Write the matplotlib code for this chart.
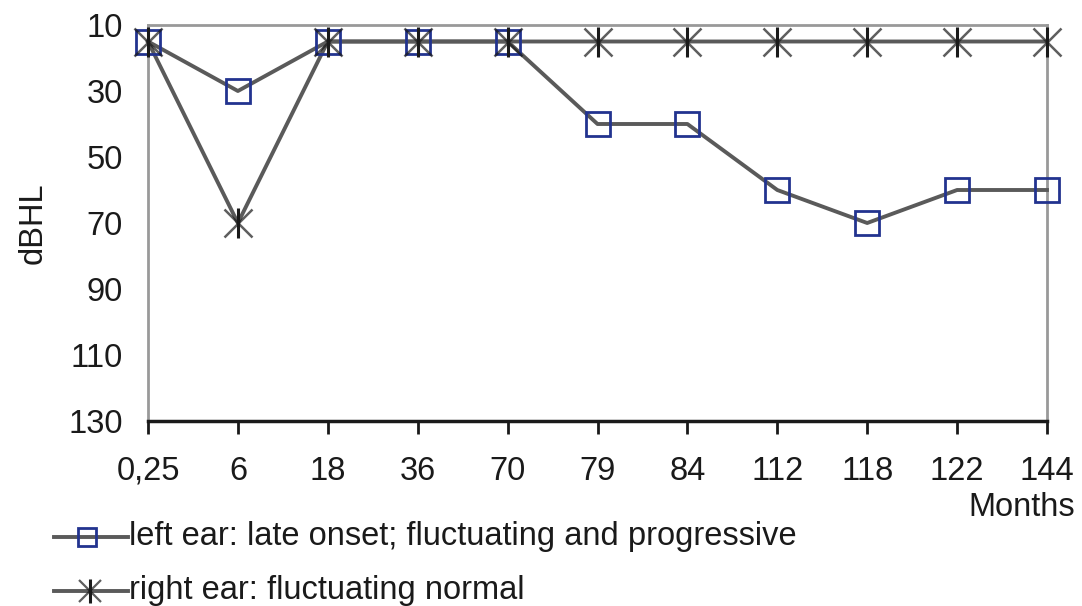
import matplotlib
matplotlib.use("Agg")
import matplotlib.pyplot as plt
from matplotlib.lines import Line2D

plt.rcParams['font.family'] = ['Liberation Sans', 'DejaVu Sans']

months = ["0,25", "6", "18", "36", "70", "79", "84", "112", "118", "122", "144"]
left_ear = [15, 30, 15, 15, 15, 40, 40, 60, 70, 60, 60]
right_ear = [15, 70, 15, 15, 15, 15, 15, 15, 15, 15, 15]
y_ticks = [10, 30, 50, 70, 90, 110, 130]
series_labels = ["left ear: late onset; fluctuating and progressive",
                 "right ear: fluctuating normal"]

W, H = 1082, 606
line_color = "#5a5a5a"
square_color = "#22338f"
star_color = "#1a1a1a"
text_color = "#1a1a1a"
frame_color = "#999999"
fs = 23.5
lw = 2.8

fig = plt.figure(figsize=(W / 100, H / 100), dpi=100)
ax = fig.add_axes([148 / W, 1 - 421 / H, (1047 - 148) / W, (421 - 25) / H])

x = list(range(len(months)))

ax.plot(x, left_ear, color=line_color, lw=lw, zorder=2, clip_on=False)
ax.plot(x, right_ear, color=line_color, lw=lw, zorder=2, clip_on=False)
ax.plot(x, left_ear, ls="none", marker="s", ms=17, mfc="none", mec=square_color,
        mew=2.0, zorder=3, clip_on=False)
ax.plot(x, right_ear, ls="none", marker="x", ms=20, mec=star_color, mew=1.8,
        alpha=0.7, zorder=4, clip_on=False)
ax.plot(x, right_ear, ls="none", marker="|", ms=21, mec=star_color, mew=2.2,
        zorder=4, clip_on=False)

ax.set_xlim(0, len(months) - 1)
ax.set_ylim(130, 10)
ax.set_xticks(x)
ax.set_xticklabels(months, fontsize=fs, color=text_color)
ax.set_yticks(y_ticks)
ax.set_yticklabels([str(v) for v in y_ticks], fontsize=fs, color=text_color)
ax.tick_params(axis="y", length=0, pad=18)
ax.tick_params(axis="x", length=9, width=2, color=text_color, direction="out", pad=16)

for side in ("top", "right", "left"):
    ax.spines[side].set_color(frame_color)
    ax.spines[side].set_linewidth(2)
ax.spines["bottom"].set_color(text_color)
ax.spines["bottom"].set_linewidth(2.5)
for s in ax.spines.values():
    s.set_zorder(1)

fig.text(33 / W, 1 - 223 / H, "dBHL", fontsize=fs, color=text_color,
         rotation=90, ha="center", va="center")
fig.text(1075 / W, 1 - 507 / H, "Months", fontsize=fs, color=text_color,
         ha="right", va="center")

# legend drawn in figure coordinates
legend_rows = [(537, 545), (591, 599)]
for i, ((row_y, base_y), label) in enumerate(zip(legend_rows, series_labels)):
    yf = 1 - row_y / H
    fig.add_artist(Line2D([54 / W, 128 / W], [yf, yf], color=line_color, lw=lw,
                          transform=fig.transFigure))
    if i == 0:
        fig.add_artist(Line2D([87 / W], [yf], ls="none", marker="s", ms=13,
                              mfc="none", mec=square_color, mew=2.0,
                              transform=fig.transFigure))
    else:
        fig.add_artist(Line2D([90 / W], [yf], ls="none", marker="x", ms=16,
                              mec=star_color, mew=1.6, alpha=0.7,
                              transform=fig.transFigure))
        fig.add_artist(Line2D([90 / W], [yf], ls="none", marker="|", ms=17,
                              mec=star_color, mew=2.2,
                              transform=fig.transFigure))
    fig.text(129 / W, 1 - base_y / H, label, fontsize=fs, color=text_color,
             ha="left", va="baseline")

fig.savefig("out.png", dpi=100)
